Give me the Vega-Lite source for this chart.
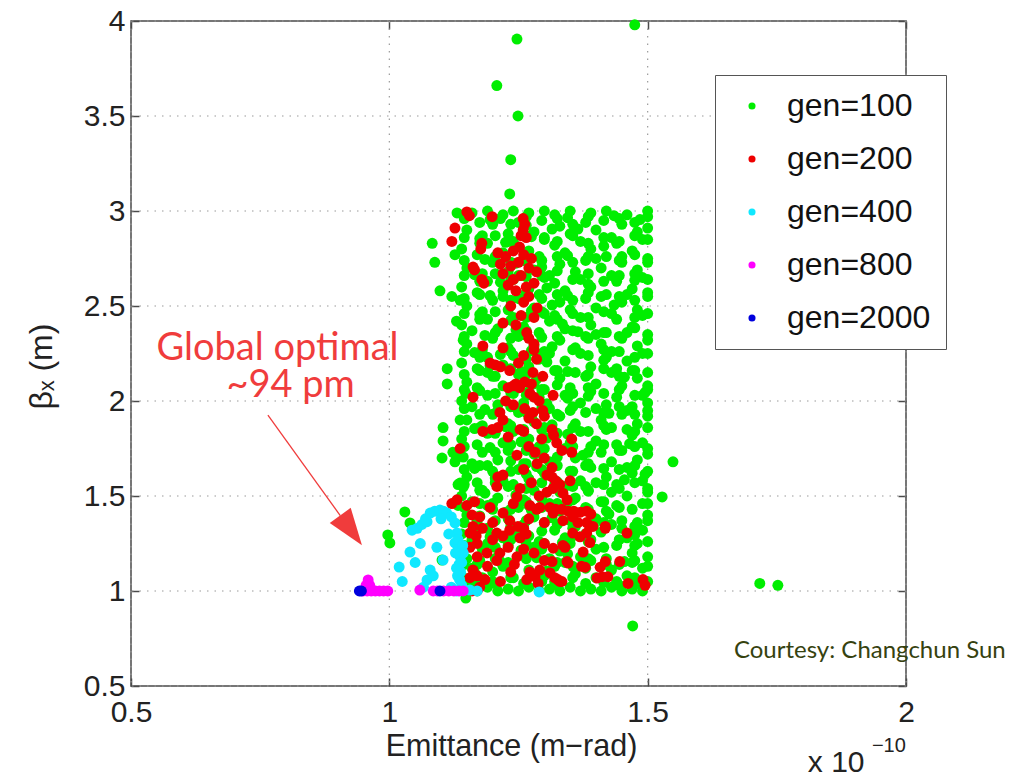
{
"$schema":"https://vega.github.io/schema/vega-lite/v6.json",
"width":775,"height":665,
"autosize":{"type":"none"},
"padding":{"left":131,"top":21,"right":108,"bottom":87},
"background":"white",
"config":{"view":{"stroke":"#4a4a4a","strokeWidth":1.5},"font":"Liberation Sans"},
"datasets":{
"gx":[{"v":0.5},{"v":1},{"v":1.5},{"v":2}],
"gy":[{"v":0.5},{"v":1},{"v":1.5},{"v":2},{"v":2.5},{"v":3},{"v":3.5},{"v":4}],
"pts":[
{"x":1.15,"y":1.01,"g":100},{"x":1.17,"y":1.0,"g":100},{"x":1.19,"y":1.02,"g":100},{"x":1.21,"y":1.0,"g":100},{"x":1.23,"y":1.01,"g":100},{"x":1.25,"y":1.0,"g":100},{"x":1.27,"y":1.02,"g":100},{"x":1.29,"y":1.0,"g":100},{"x":1.31,"y":1.01,"g":100},{"x":1.33,"y":1.0,"g":100},{"x":1.35,"y":1.02,"g":100},{"x":1.37,"y":1.0,"g":100},{"x":1.39,"y":1.01,"g":100},{"x":1.41,"y":1.0,"g":100},{"x":1.43,"y":1.02,"g":100},{"x":1.45,"y":1.0,"g":100},{"x":1.47,"y":1.01,"g":100},{"x":1.49,"y":1.0,"g":100},{"x":1.16,"y":1.04,"g":100},{"x":1.2,"y":1.05,"g":100},{"x":1.26,"y":1.04,"g":100},{"x":1.32,"y":1.05,"g":100},{"x":1.38,"y":1.04,"g":100},{"x":1.44,"y":1.05,"g":100},{"x":1.48,"y":1.04,"g":100},
{"x":1.14,"y":1.08,"g":100},{"x":1.16,"y":1.12,"g":100},{"x":1.18,"y":1.07,"g":100},{"x":1.2,"y":1.1,"g":100},{"x":1.22,"y":1.13,"g":100},{"x":1.24,"y":1.07,"g":100},{"x":1.27,"y":1.11,"g":100},{"x":1.3,"y":1.08,"g":100},{"x":1.32,"y":1.13,"g":100},{"x":1.36,"y":1.09,"g":100},{"x":1.38,"y":1.12,"g":100},{"x":1.4,"y":1.07,"g":100},{"x":1.43,"y":1.11,"g":100},{"x":1.46,"y":1.08,"g":100},{"x":1.49,"y":1.12,"g":100},{"x":1.17,"y":1.14,"g":100},{"x":1.23,"y":1.15,"g":100},{"x":1.29,"y":1.06,"g":100},{"x":1.34,"y":1.15,"g":100},{"x":1.42,"y":1.14,"g":100},{"x":1.47,"y":1.15,"g":100},
{"x":1.13,"y":1.2,"g":100},{"x":1.15,"y":1.17,"g":100},{"x":1.18,"y":1.22,"g":100},{"x":1.21,"y":1.18,"g":100},{"x":1.23,"y":1.24,"g":100},{"x":1.26,"y":1.19,"g":100},{"x":1.28,"y":1.23,"g":100},{"x":1.31,"y":1.17,"g":100},{"x":1.33,"y":1.21,"g":100},{"x":1.35,"y":1.25,"g":100},{"x":1.37,"y":1.18,"g":100},{"x":1.4,"y":1.22,"g":100},{"x":1.42,"y":1.17,"g":100},{"x":1.44,"y":1.24,"g":100},{"x":1.47,"y":1.2,"g":100},{"x":1.5,"y":1.18,"g":100},{"x":1.19,"y":1.25,"g":100},{"x":1.3,"y":1.25,"g":100},{"x":1.39,"y":1.16,"g":100},{"x":1.48,"y":1.25,"g":100},
{"x":1.14,"y":1.3,"g":100},{"x":1.16,"y":1.27,"g":100},{"x":1.19,"y":1.33,"g":100},{"x":1.22,"y":1.28,"g":100},{"x":1.24,"y":1.34,"g":100},{"x":1.27,"y":1.29,"g":100},{"x":1.29,"y":1.26,"g":100},{"x":1.32,"y":1.32,"g":100},{"x":1.34,"y":1.28,"g":100},{"x":1.36,"y":1.34,"g":100},{"x":1.39,"y":1.27,"g":100},{"x":1.41,"y":1.31,"g":100},{"x":1.43,"y":1.35,"g":100},{"x":1.46,"y":1.28,"g":100},{"x":1.49,"y":1.32,"g":100},{"x":1.17,"y":1.35,"g":100},{"x":1.26,"y":1.35,"g":100},{"x":1.38,"y":1.3,"g":100},{"x":1.45,"y":1.33,"g":100},
{"x":1.15,"y":1.4,"g":100},{"x":1.17,"y":1.37,"g":100},{"x":1.2,"y":1.43,"g":100},{"x":1.23,"y":1.38,"g":100},{"x":1.25,"y":1.44,"g":100},{"x":1.28,"y":1.39,"g":100},{"x":1.3,"y":1.36,"g":100},{"x":1.33,"y":1.42,"g":100},{"x":1.35,"y":1.37,"g":100},{"x":1.38,"y":1.44,"g":100},{"x":1.4,"y":1.38,"g":100},{"x":1.42,"y":1.42,"g":100},{"x":1.45,"y":1.37,"g":100},{"x":1.47,"y":1.43,"g":100},{"x":1.5,"y":1.4,"g":100},{"x":1.19,"y":1.45,"g":100},{"x":1.27,"y":1.45,"g":100},{"x":1.44,"y":1.45,"g":100},{"x":1.48,"y":1.36,"g":100},
{"x":1.14,"y":1.5,"g":100},{"x":1.16,"y":1.47,"g":100},{"x":1.18,"y":1.53,"g":100},{"x":1.21,"y":1.49,"g":100},{"x":1.23,"y":1.55,"g":100},{"x":1.26,"y":1.48,"g":100},{"x":1.28,"y":1.53,"g":100},{"x":1.31,"y":1.46,"g":100},{"x":1.33,"y":1.52,"g":100},{"x":1.36,"y":1.49,"g":100},{"x":1.38,"y":1.55,"g":100},{"x":1.41,"y":1.47,"g":100},{"x":1.43,"y":1.52,"g":100},{"x":1.46,"y":1.5,"g":100},{"x":1.49,"y":1.46,"g":100},{"x":1.5,"y":1.54,"g":100},{"x":1.2,"y":1.46,"g":100},{"x":1.34,"y":1.55,"g":100},
{"x":1.15,"y":1.6,"g":100},{"x":1.17,"y":1.57,"g":100},{"x":1.2,"y":1.63,"g":100},{"x":1.22,"y":1.58,"g":100},{"x":1.25,"y":1.64,"g":100},{"x":1.27,"y":1.59,"g":100},{"x":1.3,"y":1.62,"g":100},{"x":1.32,"y":1.56,"g":100},{"x":1.35,"y":1.63,"g":100},{"x":1.37,"y":1.58,"g":100},{"x":1.39,"y":1.65,"g":100},{"x":1.42,"y":1.6,"g":100},{"x":1.44,"y":1.56,"g":100},{"x":1.47,"y":1.62,"g":100},{"x":1.49,"y":1.58,"g":100},{"x":1.24,"y":1.56,"g":100},{"x":1.4,"y":1.57,"g":100},{"x":1.46,"y":1.65,"g":100},
{"x":1.13,"y":1.7,"g":100},{"x":1.16,"y":1.67,"g":100},{"x":1.18,"y":1.73,"g":100},{"x":1.21,"y":1.69,"g":100},{"x":1.23,"y":1.74,"g":100},{"x":1.26,"y":1.67,"g":100},{"x":1.28,"y":1.72,"g":100},{"x":1.31,"y":1.68,"g":100},{"x":1.34,"y":1.75,"g":100},{"x":1.36,"y":1.7,"g":100},{"x":1.38,"y":1.66,"g":100},{"x":1.41,"y":1.73,"g":100},{"x":1.43,"y":1.68,"g":100},{"x":1.45,"y":1.74,"g":100},{"x":1.48,"y":1.69,"g":100},{"x":1.5,"y":1.72,"g":100},{"x":1.19,"y":1.66,"g":100},{"x":1.3,"y":1.75,"g":100},
{"x":1.14,"y":1.8,"g":100},{"x":1.17,"y":1.77,"g":100},{"x":1.19,"y":1.83,"g":100},{"x":1.22,"y":1.78,"g":100},{"x":1.24,"y":1.84,"g":100},{"x":1.27,"y":1.8,"g":100},{"x":1.29,"y":1.76,"g":100},{"x":1.32,"y":1.82,"g":100},{"x":1.35,"y":1.78,"g":100},{"x":1.37,"y":1.84,"g":100},{"x":1.4,"y":1.79,"g":100},{"x":1.42,"y":1.85,"g":100},{"x":1.44,"y":1.77,"g":100},{"x":1.47,"y":1.82,"g":100},{"x":1.49,"y":1.78,"g":100},{"x":1.26,"y":1.85,"g":100},{"x":1.39,"y":1.76,"g":100},{"x":1.46,"y":1.85,"g":100},
{"x":1.15,"y":1.9,"g":100},{"x":1.18,"y":1.87,"g":100},{"x":1.2,"y":1.93,"g":100},{"x":1.23,"y":1.88,"g":100},{"x":1.25,"y":1.94,"g":100},{"x":1.28,"y":1.89,"g":100},{"x":1.3,"y":1.86,"g":100},{"x":1.33,"y":1.92,"g":100},{"x":1.36,"y":1.88,"g":100},{"x":1.38,"y":1.94,"g":100},{"x":1.41,"y":1.9,"g":100},{"x":1.43,"y":1.86,"g":100},{"x":1.45,"y":1.93,"g":100},{"x":1.48,"y":1.88,"g":100},{"x":1.5,"y":1.92,"g":100},{"x":1.21,"y":1.95,"g":100},{"x":1.35,"y":1.95,"g":100},{"x":1.46,"y":1.95,"g":100},
{"x":1.14,"y":2.0,"g":100},{"x":1.16,"y":1.97,"g":100},{"x":1.19,"y":2.03,"g":100},{"x":1.21,"y":1.98,"g":100},{"x":1.24,"y":2.04,"g":100},{"x":1.26,"y":1.99,"g":100},{"x":1.29,"y":2.02,"g":100},{"x":1.31,"y":1.96,"g":100},{"x":1.34,"y":2.03,"g":100},{"x":1.37,"y":1.99,"g":100},{"x":1.39,"y":2.05,"g":100},{"x":1.42,"y":1.98,"g":100},{"x":1.44,"y":2.02,"g":100},{"x":1.47,"y":1.97,"g":100},{"x":1.49,"y":2.03,"g":100},{"x":1.27,"y":2.05,"g":100},{"x":1.4,"y":1.96,"g":100},{"x":1.5,"y":1.99,"g":100},
{"x":1.15,"y":2.1,"g":100},{"x":1.17,"y":2.07,"g":100},{"x":1.2,"y":2.13,"g":100},{"x":1.22,"y":2.08,"g":100},{"x":1.25,"y":2.14,"g":100},{"x":1.28,"y":2.09,"g":100},{"x":1.3,"y":2.06,"g":100},{"x":1.33,"y":2.12,"g":100},{"x":1.35,"y":2.07,"g":100},{"x":1.38,"y":2.13,"g":100},{"x":1.4,"y":2.09,"g":100},{"x":1.43,"y":2.15,"g":100},{"x":1.45,"y":2.08,"g":100},{"x":1.48,"y":2.12,"g":100},{"x":1.5,"y":2.06,"g":100},{"x":1.19,"y":2.15,"g":100},{"x":1.36,"y":2.15,"g":100},
{"x":1.14,"y":2.2,"g":100},{"x":1.17,"y":2.17,"g":100},{"x":1.19,"y":2.23,"g":100},{"x":1.22,"y":2.19,"g":100},{"x":1.24,"y":2.24,"g":100},{"x":1.27,"y":2.18,"g":100},{"x":1.29,"y":2.22,"g":100},{"x":1.32,"y":2.16,"g":100},{"x":1.34,"y":2.21,"g":100},{"x":1.37,"y":2.25,"g":100},{"x":1.39,"y":2.18,"g":100},{"x":1.42,"y":2.23,"g":100},{"x":1.44,"y":2.17,"g":100},{"x":1.46,"y":2.21,"g":100},{"x":1.49,"y":2.25,"g":100},{"x":1.31,"y":2.25,"g":100},{"x":1.47,"y":2.16,"g":100},
{"x":1.15,"y":2.3,"g":100},{"x":1.18,"y":2.27,"g":100},{"x":1.2,"y":2.33,"g":100},{"x":1.23,"y":2.28,"g":100},{"x":1.25,"y":2.34,"g":100},{"x":1.28,"y":2.29,"g":100},{"x":1.3,"y":2.26,"g":100},{"x":1.33,"y":2.32,"g":100},{"x":1.36,"y":2.28,"g":100},{"x":1.38,"y":2.34,"g":100},{"x":1.41,"y":2.3,"g":100},{"x":1.43,"y":2.26,"g":100},{"x":1.45,"y":2.33,"g":100},{"x":1.48,"y":2.29,"g":100},{"x":1.5,"y":2.35,"g":100},{"x":1.26,"y":2.35,"g":100},{"x":1.4,"y":2.35,"g":100},
{"x":1.14,"y":2.4,"g":100},{"x":1.16,"y":2.37,"g":100},{"x":1.19,"y":2.43,"g":100},{"x":1.21,"y":2.38,"g":100},{"x":1.24,"y":2.44,"g":100},{"x":1.26,"y":2.39,"g":100},{"x":1.29,"y":2.36,"g":100},{"x":1.31,"y":2.42,"g":100},{"x":1.34,"y":2.38,"g":100},{"x":1.37,"y":2.44,"g":100},{"x":1.39,"y":2.4,"g":100},{"x":1.42,"y":2.36,"g":100},{"x":1.44,"y":2.43,"g":100},{"x":1.47,"y":2.39,"g":100},{"x":1.49,"y":2.45,"g":100},{"x":1.32,"y":2.45,"g":100},{"x":1.46,"y":2.36,"g":100},
{"x":1.15,"y":2.5,"g":100},{"x":1.18,"y":2.47,"g":100},{"x":1.2,"y":2.53,"g":100},{"x":1.23,"y":2.48,"g":100},{"x":1.25,"y":2.54,"g":100},{"x":1.28,"y":2.49,"g":100},{"x":1.3,"y":2.46,"g":100},{"x":1.33,"y":2.52,"g":100},{"x":1.35,"y":2.48,"g":100},{"x":1.38,"y":2.54,"g":100},{"x":1.4,"y":2.49,"g":100},{"x":1.43,"y":2.46,"g":100},{"x":1.45,"y":2.52,"g":100},{"x":1.48,"y":2.48,"g":100},{"x":1.5,"y":2.55,"g":100},{"x":1.22,"y":2.55,"g":100},{"x":1.41,"y":2.55,"g":100},
{"x":1.14,"y":2.6,"g":100},{"x":1.17,"y":2.57,"g":100},{"x":1.19,"y":2.63,"g":100},{"x":1.22,"y":2.58,"g":100},{"x":1.24,"y":2.64,"g":100},{"x":1.27,"y":2.59,"g":100},{"x":1.29,"y":2.56,"g":100},{"x":1.32,"y":2.62,"g":100},{"x":1.34,"y":2.58,"g":100},{"x":1.37,"y":2.64,"g":100},{"x":1.39,"y":2.6,"g":100},{"x":1.42,"y":2.56,"g":100},{"x":1.44,"y":2.63,"g":100},{"x":1.47,"y":2.59,"g":100},{"x":1.49,"y":2.65,"g":100},{"x":1.3,"y":2.65,"g":100},{"x":1.46,"y":2.56,"g":100},
{"x":1.15,"y":2.7,"g":100},{"x":1.18,"y":2.67,"g":100},{"x":1.2,"y":2.73,"g":100},{"x":1.23,"y":2.68,"g":100},{"x":1.26,"y":2.74,"g":100},{"x":1.28,"y":2.69,"g":100},{"x":1.31,"y":2.66,"g":100},{"x":1.33,"y":2.72,"g":100},{"x":1.36,"y":2.68,"g":100},{"x":1.38,"y":2.74,"g":100},{"x":1.41,"y":2.7,"g":100},{"x":1.43,"y":2.66,"g":100},{"x":1.45,"y":2.73,"g":100},{"x":1.48,"y":2.69,"g":100},{"x":1.5,"y":2.75,"g":100},{"x":1.25,"y":2.66,"g":100},{"x":1.4,"y":2.75,"g":100},
{"x":1.14,"y":2.8,"g":100},{"x":1.17,"y":2.77,"g":100},{"x":1.19,"y":2.83,"g":100},{"x":1.22,"y":2.78,"g":100},{"x":1.24,"y":2.84,"g":100},{"x":1.27,"y":2.79,"g":100},{"x":1.29,"y":2.76,"g":100},{"x":1.32,"y":2.82,"g":100},{"x":1.34,"y":2.78,"g":100},{"x":1.37,"y":2.84,"g":100},{"x":1.39,"y":2.8,"g":100},{"x":1.42,"y":2.76,"g":100},{"x":1.44,"y":2.83,"g":100},{"x":1.47,"y":2.79,"g":100},{"x":1.49,"y":2.85,"g":100},{"x":1.3,"y":2.85,"g":100},{"x":1.45,"y":2.76,"g":100},
{"x":1.15,"y":2.9,"g":100},{"x":1.18,"y":2.87,"g":100},{"x":1.2,"y":2.93,"g":100},{"x":1.23,"y":2.88,"g":100},{"x":1.25,"y":2.94,"g":100},{"x":1.28,"y":2.89,"g":100},{"x":1.3,"y":2.86,"g":100},{"x":1.33,"y":2.92,"g":100},{"x":1.35,"y":2.88,"g":100},{"x":1.38,"y":2.94,"g":100},{"x":1.4,"y":2.9,"g":100},{"x":1.43,"y":2.86,"g":100},{"x":1.45,"y":2.93,"g":100},{"x":1.48,"y":2.89,"g":100},{"x":1.5,"y":2.91,"g":100},
{"x":1.16,"y":2.99,"g":100},{"x":1.19,"y":3.0,"g":100},{"x":1.22,"y":2.98,"g":100},{"x":1.24,"y":3.0,"g":100},{"x":1.27,"y":2.99,"g":100},{"x":1.3,"y":3.0,"g":100},{"x":1.32,"y":2.98,"g":100},{"x":1.35,"y":3.0,"g":100},{"x":1.39,"y":2.99,"g":100},{"x":1.42,"y":3.0,"g":100},{"x":1.46,"y":2.98,"g":100},{"x":1.5,"y":3.0,"g":100},
{"x":1.145,"y":1.06,"g":100},{"x":1.205,"y":1.04,"g":100},{"x":1.235,"y":1.07,"g":100},{"x":1.295,"y":1.05,"g":100},{"x":1.325,"y":1.03,"g":100},{"x":1.355,"y":1.07,"g":100},{"x":1.415,"y":1.06,"g":100},{"x":1.445,"y":1.03,"g":100},{"x":1.475,"y":1.07,"g":100},{"x":1.5,"y":1.05,"g":100},{"x":1.175,"y":1.065,"g":100},
{"x":1.145,"y":1.14,"g":100},{"x":1.175,"y":1.16,"g":100},{"x":1.235,"y":1.13,"g":100},{"x":1.265,"y":1.17,"g":100},{"x":1.325,"y":1.15,"g":100},{"x":1.355,"y":1.13,"g":100},{"x":1.385,"y":1.17,"g":100},{"x":1.445,"y":1.14,"g":100},{"x":1.475,"y":1.16,"g":100},{"x":1.5,"y":1.13,"g":100},{"x":1.205,"y":1.17,"g":100},
{"x":1.145,"y":1.24,"g":100},{"x":1.205,"y":1.23,"g":100},{"x":1.235,"y":1.27,"g":100},{"x":1.265,"y":1.25,"g":100},{"x":1.295,"y":1.22,"g":100},{"x":1.385,"y":1.26,"g":100},{"x":1.415,"y":1.23,"g":100},{"x":1.445,"y":1.27,"g":100},{"x":1.475,"y":1.24,"g":100},{"x":1.5,"y":1.26,"g":100},{"x":1.355,"y":1.29,"g":100},
{"x":1.145,"y":1.36,"g":100},{"x":1.175,"y":1.33,"g":100},{"x":1.205,"y":1.37,"g":100},{"x":1.235,"y":1.34,"g":100},{"x":1.265,"y":1.37,"g":100},{"x":1.325,"y":1.35,"g":100},{"x":1.355,"y":1.33,"g":100},{"x":1.415,"y":1.36,"g":100},{"x":1.475,"y":1.34,"g":100},{"x":1.5,"y":1.37,"g":100},
{"x":1.145,"y":1.44,"g":100},{"x":1.175,"y":1.46,"g":100},{"x":1.235,"y":1.43,"g":100},{"x":1.265,"y":1.47,"g":100},{"x":1.295,"y":1.44,"g":100},{"x":1.325,"y":1.46,"g":100},{"x":1.385,"y":1.43,"g":100},{"x":1.415,"y":1.47,"g":100},{"x":1.445,"y":1.44,"g":100},{"x":1.5,"y":1.46,"g":100},{"x":1.355,"y":1.48,"g":100},
{"x":1.145,"y":1.56,"g":100},{"x":1.175,"y":1.53,"g":100},{"x":1.205,"y":1.57,"g":100},{"x":1.265,"y":1.54,"g":100},{"x":1.295,"y":1.57,"g":100},{"x":1.355,"y":1.55,"g":100},{"x":1.385,"y":1.53,"g":100},{"x":1.415,"y":1.56,"g":100},{"x":1.445,"y":1.54,"g":100},{"x":1.475,"y":1.57,"g":100},{"x":1.5,"y":1.52,"g":100},
{"x":1.145,"y":1.64,"g":100},{"x":1.175,"y":1.66,"g":100},{"x":1.235,"y":1.63,"g":100},{"x":1.265,"y":1.67,"g":100},{"x":1.295,"y":1.64,"g":100},{"x":1.325,"y":1.66,"g":100},{"x":1.355,"y":1.63,"g":100},{"x":1.385,"y":1.67,"g":100},{"x":1.445,"y":1.64,"g":100},{"x":1.475,"y":1.66,"g":100},{"x":1.5,"y":1.63,"g":100},
{"x":1.145,"y":1.76,"g":100},{"x":1.205,"y":1.73,"g":100},{"x":1.235,"y":1.77,"g":100},{"x":1.265,"y":1.74,"g":100},{"x":1.295,"y":1.72,"g":100},{"x":1.355,"y":1.76,"g":100},{"x":1.385,"y":1.73,"g":100},{"x":1.415,"y":1.77,"g":100},{"x":1.445,"y":1.74,"g":100},{"x":1.475,"y":1.76,"g":100},{"x":1.5,"y":1.75,"g":100},
{"x":1.145,"y":1.84,"g":100},{"x":1.175,"y":1.86,"g":100},{"x":1.205,"y":1.83,"g":100},{"x":1.235,"y":1.87,"g":100},{"x":1.295,"y":1.85,"g":100},{"x":1.325,"y":1.83,"g":100},{"x":1.355,"y":1.86,"g":100},{"x":1.385,"y":1.84,"g":100},{"x":1.415,"y":1.87,"g":100},{"x":1.475,"y":1.84,"g":100},{"x":1.5,"y":1.86,"g":100},
{"x":1.145,"y":1.96,"g":100},{"x":1.175,"y":1.93,"g":100},{"x":1.235,"y":1.97,"g":100},{"x":1.265,"y":1.94,"g":100},{"x":1.295,"y":1.96,"g":100},{"x":1.325,"y":1.93,"g":100},{"x":1.355,"y":1.97,"g":100},{"x":1.415,"y":1.94,"g":100},{"x":1.445,"y":1.97,"g":100},{"x":1.475,"y":1.93,"g":100},{"x":1.5,"y":1.95,"g":100},
{"x":1.145,"y":2.06,"g":100},{"x":1.205,"y":2.04,"g":100},{"x":1.235,"y":2.07,"g":100},{"x":1.265,"y":2.03,"g":100},{"x":1.295,"y":2.06,"g":100},{"x":1.355,"y":2.04,"g":100},{"x":1.385,"y":2.07,"g":100},{"x":1.415,"y":2.04,"g":100},{"x":1.445,"y":2.06,"g":100},{"x":1.475,"y":2.03,"g":100},{"x":1.5,"y":2.08,"g":100},
{"x":1.145,"y":2.14,"g":100},{"x":1.175,"y":2.16,"g":100},{"x":1.205,"y":2.13,"g":100},{"x":1.235,"y":2.17,"g":100},{"x":1.265,"y":2.14,"g":100},{"x":1.325,"y":2.16,"g":100},{"x":1.385,"y":2.14,"g":100},{"x":1.415,"y":2.17,"g":100},{"x":1.445,"y":2.13,"g":100},{"x":1.475,"y":2.16,"g":100},{"x":1.5,"y":2.15,"g":100},
{"x":1.145,"y":2.26,"g":100},{"x":1.175,"y":2.23,"g":100},{"x":1.235,"y":2.26,"g":100},{"x":1.265,"y":2.22,"g":100},{"x":1.295,"y":2.25,"g":100},{"x":1.355,"y":2.27,"g":100},{"x":1.385,"y":2.24,"g":100},{"x":1.445,"y":2.26,"g":100},{"x":1.475,"y":2.23,"g":100},{"x":1.5,"y":2.25,"g":100},{"x":1.415,"y":2.27,"g":100},
{"x":1.145,"y":2.34,"g":100},{"x":1.205,"y":2.36,"g":100},{"x":1.235,"y":2.33,"g":100},{"x":1.265,"y":2.37,"g":100},{"x":1.325,"y":2.34,"g":100},{"x":1.355,"y":2.37,"g":100},{"x":1.385,"y":2.33,"g":100},{"x":1.415,"y":2.36,"g":100},{"x":1.445,"y":2.34,"g":100},{"x":1.5,"y":2.32,"g":100},
{"x":1.145,"y":2.46,"g":100},{"x":1.175,"y":2.43,"g":100},{"x":1.205,"y":2.47,"g":100},{"x":1.265,"y":2.44,"g":100},{"x":1.295,"y":2.47,"g":100},{"x":1.325,"y":2.43,"g":100},{"x":1.355,"y":2.46,"g":100},{"x":1.385,"y":2.44,"g":100},{"x":1.415,"y":2.47,"g":100},{"x":1.475,"y":2.44,"g":100},{"x":1.5,"y":2.46,"g":100},
{"x":1.145,"y":2.54,"g":100},{"x":1.175,"y":2.56,"g":100},{"x":1.235,"y":2.53,"g":100},{"x":1.265,"y":2.57,"g":100},{"x":1.295,"y":2.54,"g":100},{"x":1.325,"y":2.56,"g":100},{"x":1.355,"y":2.53,"g":100},{"x":1.385,"y":2.57,"g":100},{"x":1.445,"y":2.55,"g":100},{"x":1.475,"y":2.53,"g":100},{"x":1.5,"y":2.57,"g":100},
{"x":1.145,"y":2.66,"g":100},{"x":1.175,"y":2.63,"g":100},{"x":1.205,"y":2.67,"g":100},{"x":1.235,"y":2.64,"g":100},{"x":1.295,"y":2.66,"g":100},{"x":1.355,"y":2.64,"g":100},{"x":1.385,"y":2.67,"g":100},{"x":1.415,"y":2.63,"g":100},{"x":1.445,"y":2.66,"g":100},{"x":1.5,"y":2.64,"g":100},{"x":1.475,"y":2.67,"g":100},
{"x":1.145,"y":2.74,"g":100},{"x":1.205,"y":2.76,"g":100},{"x":1.235,"y":2.73,"g":100},{"x":1.265,"y":2.77,"g":100},{"x":1.295,"y":2.74,"g":100},{"x":1.325,"y":2.76,"g":100},{"x":1.355,"y":2.73,"g":100},{"x":1.385,"y":2.76,"g":100},{"x":1.445,"y":2.74,"g":100},{"x":1.475,"y":2.77,"g":100},{"x":1.5,"y":2.73,"g":100},
{"x":1.145,"y":2.86,"g":100},{"x":1.175,"y":2.83,"g":100},{"x":1.205,"y":2.87,"g":100},{"x":1.235,"y":2.84,"g":100},{"x":1.265,"y":2.87,"g":100},{"x":1.325,"y":2.84,"g":100},{"x":1.355,"y":2.87,"g":100},{"x":1.385,"y":2.83,"g":100},{"x":1.415,"y":2.86,"g":100},{"x":1.445,"y":2.84,"g":100},{"x":1.475,"y":2.87,"g":100},{"x":1.5,"y":2.85,"g":100},
{"x":1.145,"y":2.96,"g":100},{"x":1.175,"y":2.94,"g":100},{"x":1.215,"y":2.96,"g":100},{"x":1.235,"y":2.93,"g":100},{"x":1.265,"y":2.97,"g":100},{"x":1.295,"y":2.95,"g":100},{"x":1.325,"y":2.96,"g":100},{"x":1.355,"y":2.93,"g":100},{"x":1.385,"y":2.97,"g":100},{"x":1.415,"y":2.95,"g":100},{"x":1.445,"y":2.96,"g":100},{"x":1.475,"y":2.94,"g":100},{"x":1.5,"y":2.97,"g":100},
{"x":1.165,"y":1.095,"g":100},{"x":1.215,"y":1.155,"g":100},{"x":1.255,"y":1.215,"g":100},{"x":1.305,"y":1.105,"g":100},{"x":1.285,"y":1.175,"g":100},{"x":1.345,"y":1.195,"g":100},{"x":1.195,"y":1.285,"g":100},{"x":1.245,"y":1.305,"g":100},{"x":1.295,"y":1.315,"g":100},{"x":1.335,"y":1.255,"g":100},{"x":1.175,"y":1.395,"g":100},{"x":1.225,"y":1.415,"g":100},{"x":1.275,"y":1.425,"g":100},{"x":1.315,"y":1.385,"g":100},{"x":1.345,"y":1.465,"g":100},{"x":1.185,"y":1.515,"g":100},{"x":1.245,"y":1.505,"g":100},{"x":1.295,"y":1.485,"g":100},{"x":1.325,"y":1.575,"g":100},{"x":1.265,"y":1.615,"g":100},{"x":1.205,"y":1.595,"g":100},{"x":1.165,"y":1.645,"g":100},{"x":1.235,"y":1.685,"g":100},{"x":1.285,"y":1.655,"g":100},{"x":1.325,"y":1.705,"g":100},{"x":1.195,"y":1.755,"g":100},{"x":1.255,"y":1.785,"g":100},{"x":1.305,"y":1.805,"g":100},{"x":1.345,"y":1.825,"g":100},{"x":1.165,"y":1.855,"g":100},{"x":1.225,"y":1.865,"g":100},{"x":1.275,"y":1.915,"g":100},{"x":1.315,"y":1.875,"g":100},{"x":1.185,"y":1.955,"g":100},{"x":1.245,"y":1.965,"g":100},{"x":1.305,"y":1.985,"g":100},{"x":1.345,"y":2.015,"g":100},{"x":1.175,"y":2.055,"g":100},{"x":1.235,"y":2.045,"g":100},{"x":1.285,"y":2.115,"g":100},{"x":1.325,"y":2.085,"g":100},{"x":1.195,"y":2.185,"g":100},{"x":1.255,"y":2.155,"g":100},{"x":1.305,"y":2.205,"g":100},{"x":1.345,"y":2.155,"g":100},{"x":1.165,"y":2.255,"g":100},{"x":1.215,"y":2.245,"g":100},{"x":1.275,"y":2.265,"g":100},{"x":1.315,"y":2.285,"g":100},{"x":1.185,"y":2.345,"g":100},{"x":1.245,"y":2.375,"g":100},{"x":1.295,"y":2.335,"g":100},{"x":1.335,"y":2.405,"g":100},{"x":1.175,"y":2.455,"g":100},{"x":1.235,"y":2.425,"g":100},{"x":1.275,"y":2.475,"g":100},{"x":1.315,"y":2.505,"g":100},{"x":1.195,"y":2.555,"g":100},{"x":1.255,"y":2.535,"g":100},{"x":1.305,"y":2.595,"g":100},{"x":1.345,"y":2.555,"g":100},{"x":1.165,"y":2.665,"g":100},{"x":1.215,"y":2.625,"g":100},{"x":1.265,"y":2.655,"g":100},{"x":1.325,"y":2.685,"g":100},{"x":1.185,"y":2.745,"g":100},{"x":1.245,"y":2.725,"g":100},{"x":1.295,"y":2.705,"g":100},{"x":1.345,"y":2.765,"g":100},{"x":1.175,"y":2.855,"g":100},{"x":1.225,"y":2.835,"g":100},{"x":1.275,"y":2.865,"g":100},{"x":1.315,"y":2.905,"g":100},{"x":1.195,"y":2.955,"g":100},{"x":1.265,"y":2.925,"g":100},{"x":1.345,"y":2.965,"g":100},
{"x":1.375,"y":1.135,"g":100},{"x":1.415,"y":1.045,"g":100},{"x":1.455,"y":1.155,"g":100},{"x":1.395,"y":1.345,"g":100},{"x":1.475,"y":1.295,"g":100},{"x":1.425,"y":1.405,"g":100},{"x":1.385,"y":1.525,"g":100},{"x":1.455,"y":1.585,"g":100},{"x":1.415,"y":1.645,"g":100},{"x":1.495,"y":1.615,"g":100},{"x":1.375,"y":1.715,"g":100},{"x":1.465,"y":1.775,"g":100},{"x":1.425,"y":1.935,"g":100},{"x":1.385,"y":2.025,"g":100},{"x":1.495,"y":2.045,"g":100},{"x":1.455,"y":2.125,"g":100},{"x":1.415,"y":2.215,"g":100},{"x":1.365,"y":2.365,"g":100},{"x":1.475,"y":2.385,"g":100},{"x":1.435,"y":2.505,"g":100},{"x":1.385,"y":2.615,"g":100},{"x":1.475,"y":2.635,"g":100},{"x":1.415,"y":2.815,"g":100},{"x":1.365,"y":2.905,"g":100},{"x":1.485,"y":2.955,"g":100},{"x":1.435,"y":2.975,"g":100},
{"x":1.083,"y":2.83,"g":100},{"x":1.088,"y":2.73,"g":100},{"x":1.121,"y":2.55,"g":100},{"x":1.137,"y":2.53,"g":100},{"x":1.127,"y":2.77,"g":100},{"x":1.131,"y":2.99,"g":100},{"x":1.143,"y":2.98,"g":100},{"x":1.143,"y":2.32,"g":100},{"x":1.13,"y":2.42,"g":100},{"x":1.112,"y":2.09,"g":100},{"x":1.112,"y":2.17,"g":100},{"x":1.104,"y":1.86,"g":100},{"x":1.104,"y":1.79,"g":100},{"x":1.127,"y":1.68,"g":100},{"x":1.102,"y":1.7,"g":100},{"x":1.143,"y":1.705,"g":100},{"x":1.137,"y":1.568,"g":100},{"x":1.133,"y":1.45,"g":100},{"x":1.123,"y":1.73,"g":100},{"x":1.133,"y":1.56,"g":100},{"x":1.143,"y":1.547,"g":100},{"x":1.098,"y":2.58,"g":100},{"x":1.148,"y":2.04,"g":100},{"x":1.137,"y":1.9,"g":100},
{"x":0.997,"y":1.295,"g":100},{"x":1.001,"y":1.253,"g":100},{"x":1.03,"y":1.416,"g":100},{"x":1.04,"y":1.358,"g":100},{"x":1.102,"y":1.163,"g":100},{"x":1.148,"y":0.963,"g":100},
{"x":1.475,"y":3.98,"g":100},{"x":1.247,"y":3.905,"g":100},{"x":1.208,"y":3.66,"g":100},{"x":1.249,"y":3.5,"g":100},{"x":1.235,"y":3.27,"g":100},{"x":1.233,"y":3.09,"g":100},{"x":1.549,"y":1.68,"g":100},{"x":1.528,"y":1.495,"g":100},{"x":1.717,"y":1.04,"g":100},{"x":1.752,"y":1.03,"g":100},{"x":1.471,"y":0.816,"g":100},
{"x":1.15,"y":2.995,"g":200},{"x":1.155,"y":2.975,"g":200},{"x":1.127,"y":2.91,"g":200},{"x":1.121,"y":2.84,"g":200},{"x":1.179,"y":2.83,"g":200},{"x":1.177,"y":2.8,"g":200},{"x":1.199,"y":2.97,"g":200},{"x":1.259,"y":2.96,"g":200},{"x":1.262,"y":2.93,"g":200},{"x":1.259,"y":2.9,"g":200},{"x":1.255,"y":2.87,"g":200},{"x":1.265,"y":2.86,"g":200},{"x":1.252,"y":2.81,"g":200},{"x":1.21,"y":2.78,"g":200},{"x":1.225,"y":2.76,"g":200},{"x":1.24,"y":2.79,"g":200},{"x":1.26,"y":2.77,"g":200},{"x":1.275,"y":2.75,"g":200},{"x":1.215,"y":2.72,"g":200},{"x":1.235,"y":2.71,"g":200},{"x":1.25,"y":2.73,"g":200},{"x":1.27,"y":2.7,"g":200},{"x":1.285,"y":2.68,"g":200},{"x":1.162,"y":2.705,"g":200},{"x":1.165,"y":2.69,"g":200},{"x":1.179,"y":2.64,"g":200},{"x":1.183,"y":2.62,"g":200},{"x":1.22,"y":2.67,"g":200},{"x":1.24,"y":2.64,"g":200},{"x":1.255,"y":2.66,"g":200},{"x":1.23,"y":2.61,"g":200},{"x":1.265,"y":2.6,"g":200},{"x":1.28,"y":2.62,"g":200},{"x":1.245,"y":2.58,"g":200},{"x":1.27,"y":2.55,"g":200},{"x":1.286,"y":2.49,"g":200},{"x":1.28,"y":2.44,"g":200},{"x":1.26,"y":2.52,"g":200},{"x":1.235,"y":2.5,"g":200},{"x":1.22,"y":2.41,"g":200},{"x":1.245,"y":2.4,"g":200},{"x":1.266,"y":2.36,"g":200},{"x":1.28,"y":2.3,"g":200},{"x":1.28,"y":2.27,"g":200},{"x":1.181,"y":2.29,"g":200},{"x":1.22,"y":2.28,"g":200},{"x":1.195,"y":2.2,"g":200},{"x":1.205,"y":2.19,"g":200},{"x":1.215,"y":2.18,"g":200},{"x":1.233,"y":2.16,"g":200},{"x":1.25,"y":2.2,"g":200},{"x":1.278,"y":2.15,"g":200},{"x":1.297,"y":2.13,"g":200},{"x":1.245,"y":2.09,"g":200},{"x":1.252,"y":2.07,"g":200},{"x":1.24,"y":2.08,"g":200},{"x":1.262,"y":2.1,"g":200},{"x":1.275,"y":2.09,"g":200},
{"x":1.162,"y":2.02,"g":200},{"x":1.23,"y":2.07,"g":200},{"x":1.272,"y":2.04,"g":200},{"x":1.28,"y":2.02,"g":200},{"x":1.29,"y":2.0,"g":200},{"x":1.262,"y":1.96,"g":200},{"x":1.278,"y":1.94,"g":200},{"x":1.297,"y":1.95,"g":200},{"x":1.317,"y":2.03,"g":200},{"x":1.214,"y":1.94,"g":200},{"x":1.22,"y":1.9,"g":200},{"x":1.181,"y":1.84,"g":200},{"x":1.199,"y":1.85,"g":200},{"x":1.21,"y":1.86,"g":200},{"x":1.23,"y":1.81,"g":200},{"x":1.253,"y":1.85,"g":200},{"x":1.26,"y":1.84,"g":200},{"x":1.315,"y":1.85,"g":200},{"x":1.318,"y":1.82,"g":200},{"x":1.324,"y":1.78,"g":200},{"x":1.353,"y":1.8,"g":200},{"x":1.334,"y":1.74,"g":200},{"x":1.353,"y":1.73,"g":200},{"x":1.282,"y":1.73,"g":200},{"x":1.247,"y":1.715,"g":200},{"x":1.286,"y":1.67,"g":200},{"x":1.315,"y":1.65,"g":200},{"x":1.305,"y":1.61,"g":200},{"x":1.315,"y":1.6,"g":200},{"x":1.322,"y":1.58,"g":200},{"x":1.35,"y":1.58,"g":200},{"x":1.21,"y":1.6,"g":200},{"x":1.22,"y":1.61,"g":200},{"x":1.208,"y":1.55,"g":200},{"x":1.253,"y":1.54,"g":200},{"x":1.247,"y":1.495,"g":200},{"x":1.305,"y":1.52,"g":200},{"x":1.336,"y":1.515,"g":200},{"x":1.344,"y":1.48,"g":200},{"x":1.137,"y":1.75,"g":200},{"x":1.121,"y":1.46,"g":200},{"x":1.131,"y":1.48,"g":200},{"x":1.33,"y":1.56,"g":200},{"x":1.317,"y":1.54,"g":200},
{"x":1.272,"y":1.45,"g":200},{"x":1.285,"y":1.43,"g":200},{"x":1.291,"y":1.44,"g":200},{"x":1.311,"y":1.44,"g":200},{"x":1.322,"y":1.43,"g":200},{"x":1.334,"y":1.43,"g":200},{"x":1.346,"y":1.42,"g":200},{"x":1.357,"y":1.42,"g":200},{"x":1.37,"y":1.415,"g":200},{"x":1.382,"y":1.42,"g":200},{"x":1.39,"y":1.405,"g":200},{"x":1.317,"y":1.41,"g":200},{"x":1.336,"y":1.37,"g":200},{"x":1.355,"y":1.39,"g":200},{"x":1.365,"y":1.36,"g":200},{"x":1.382,"y":1.36,"g":200},{"x":1.394,"y":1.34,"g":200},{"x":1.418,"y":1.34,"g":200},{"x":1.22,"y":1.41,"g":200},{"x":1.233,"y":1.37,"g":200},{"x":1.249,"y":1.34,"g":200},{"x":1.26,"y":1.33,"g":200},{"x":1.175,"y":1.39,"g":200},{"x":1.162,"y":1.34,"g":200},{"x":1.156,"y":1.305,"g":200},{"x":1.168,"y":1.29,"g":200},{"x":1.18,"y":1.33,"g":200},{"x":1.2,"y":1.36,"g":200},{"x":1.208,"y":1.305,"g":200},{"x":1.22,"y":1.29,"g":200},{"x":1.233,"y":1.32,"g":200},{"x":1.253,"y":1.28,"g":200},{"x":1.265,"y":1.3,"g":200},{"x":1.156,"y":1.23,"g":200},{"x":1.17,"y":1.25,"g":200},{"x":1.189,"y":1.2,"g":200},{"x":1.214,"y":1.2,"g":200},{"x":1.208,"y":1.16,"g":200},{"x":1.247,"y":1.18,"g":200},{"x":1.242,"y":1.14,"g":200},{"x":1.162,"y":1.11,"g":200},{"x":1.156,"y":1.07,"g":200},{"x":1.17,"y":1.08,"g":200},{"x":1.185,"y":1.06,"g":200},{"x":1.272,"y":1.1,"g":200},{"x":1.282,"y":1.075,"g":200},{"x":1.291,"y":1.11,"g":200},{"x":1.266,"y":1.06,"g":200},{"x":1.288,"y":1.04,"g":200},{"x":1.311,"y":1.095,"g":200},{"x":1.317,"y":1.225,"g":200},{"x":1.336,"y":1.24,"g":200},{"x":1.315,"y":1.155,"g":200},{"x":1.344,"y":1.155,"g":200},{"x":1.326,"y":1.06,"g":200},{"x":1.334,"y":1.05,"g":200},{"x":1.355,"y":1.305,"g":200},{"x":1.369,"y":1.285,"g":200},{"x":1.382,"y":1.305,"g":200},{"x":1.388,"y":1.255,"g":200},{"x":1.375,"y":1.205,"g":200},{"x":1.379,"y":1.125,"g":200},{"x":1.372,"y":1.13,"g":200},{"x":1.408,"y":1.125,"g":200},{"x":1.418,"y":1.155,"g":200},{"x":1.412,"y":1.075,"g":200},{"x":1.423,"y":1.075,"g":200},{"x":1.446,"y":1.155,"g":200},{"x":1.46,"y":1.305,"g":200},{"x":1.462,"y":1.04,"g":200},{"x":1.491,"y":1.06,"g":200},{"x":1.495,"y":1.03,"g":200},{"x":1.388,"y":1.34,"g":200},{"x":1.418,"y":1.33,"g":200},{"x":1.34,"y":1.23,"g":200},{"x":1.346,"y":1.147,"g":200},{"x":1.402,"y":1.068,"g":200},{"x":1.32,"y":1.07,"g":200},{"x":1.33,"y":1.05,"g":200},{"x":1.15,"y":1.45,"g":200},{"x":1.165,"y":1.47,"g":200},{"x":1.17,"y":1.18,"g":200},{"x":1.19,"y":1.13,"g":200},{"x":1.2,"y":1.27,"g":200},{"x":1.23,"y":1.23,"g":200},{"x":1.26,"y":1.22,"g":200},{"x":1.28,"y":1.2,"g":200},{"x":1.3,"y":1.25,"g":200},{"x":1.235,"y":1.1,"g":200},{"x":1.215,"y":1.05,"g":200},{"x":1.3,"y":1.16,"g":200},{"x":1.16,"y":1.4,"g":200},{"x":1.195,"y":1.44,"g":200},{"x":1.24,"y":1.46,"g":200},{"x":1.27,"y":1.38,"g":200},{"x":1.3,"y":1.36,"g":200},{"x":1.29,"y":1.5,"g":200},{"x":1.275,"y":1.57,"g":200},{"x":1.26,"y":1.64,"g":200},{"x":1.3,"y":1.7,"g":200},{"x":1.27,"y":1.76,"g":200},{"x":1.295,"y":1.8,"g":200},{"x":1.285,"y":1.88,"g":200},{"x":1.3,"y":1.92,"g":200},{"x":1.24,"y":1.98,"g":200},{"x":1.27,"y":1.91,"g":200},{"x":1.225,"y":2.0,"g":200},{"x":1.285,"y":2.22,"g":200},{"x":1.26,"y":2.24,"g":200},{"x":1.27,"y":2.33,"g":200},{"x":1.255,"y":2.45,"g":200},{"x":1.16,"y":1.0,"g":200},{"x":1.175,"y":1.02,"g":200},
{"x":1.019,"y":1.126,"g":400},{"x":1.04,"y":1.205,"g":400},{"x":1.044,"y":1.32,"g":400},{"x":1.054,"y":1.33,"g":400},{"x":1.063,"y":1.35,"g":400},{"x":1.073,"y":1.365,"g":400},{"x":1.079,"y":1.41,"g":400},{"x":1.088,"y":1.42,"g":400},{"x":1.098,"y":1.426,"g":400},{"x":1.105,"y":1.42,"g":400},{"x":1.111,"y":1.41,"g":400},{"x":1.12,"y":1.39,"g":400},{"x":1.127,"y":1.358,"g":400},{"x":1.131,"y":1.305,"g":400},{"x":1.127,"y":1.253,"g":400},{"x":1.133,"y":1.27,"g":400},{"x":1.135,"y":1.22,"g":400},{"x":1.137,"y":1.18,"g":400},{"x":1.135,"y":1.14,"g":400},{"x":1.138,"y":1.1,"g":400},{"x":1.136,"y":1.06,"g":400},{"x":1.14,"y":1.03,"g":400},{"x":1.143,"y":1.2,"g":400},{"x":1.14,"y":1.15,"g":400},{"x":1.142,"y":1.24,"g":400},{"x":1.128,"y":1.2,"g":400},{"x":1.13,"y":1.12,"g":400},{"x":1.132,"y":1.08,"g":400},{"x":1.092,"y":1.23,"g":400},{"x":1.079,"y":1.11,"g":400},{"x":1.073,"y":1.058,"g":400},{"x":1.104,"y":1.163,"g":400},{"x":1.156,"y":1.005,"g":400},{"x":1.17,"y":1.0,"g":400},{"x":1.13,"y":1.0,"g":400},{"x":1.12,"y":1.02,"g":400},{"x":1.085,"y":1.08,"g":400},{"x":1.29,"y":0.995,"g":400},{"x":1.066,"y":1.02,"g":400},{"x":1.1,"y":1.38,"g":400},{"x":1.07,"y":1.38,"g":400},{"x":1.06,"y":1.25,"g":400},{"x":1.05,"y":1.15,"g":400},{"x":1.115,"y":1.3,"g":400},{"x":1.025,"y":1.05,"g":400},
{"x":0.949,"y":1.0,"g":800},{"x":0.957,"y":1.0,"g":800},{"x":0.965,"y":1.0,"g":800},{"x":0.973,"y":1.0,"g":800},{"x":0.981,"y":1.0,"g":800},{"x":0.989,"y":1.0,"g":800},{"x":0.997,"y":1.0,"g":800},{"x":0.959,"y":1.058,"g":800},{"x":0.955,"y":1.03,"g":800},{"x":0.962,"y":1.03,"g":800},{"x":1.059,"y":1.005,"g":800},{"x":1.085,"y":1.0,"g":800},{"x":1.093,"y":1.0,"g":800},{"x":1.105,"y":1.0,"g":800},{"x":1.115,"y":1.0,"g":800},{"x":1.125,"y":1.0,"g":800},{"x":1.135,"y":1.0,"g":800},{"x":1.143,"y":1.0,"g":800},
{"x":0.942,"y":1.0,"g":2000},{"x":0.946,"y":1.0,"g":2000},{"x":1.098,"y":1.0,"g":2000}
],
"redtext":[{"x":0.7835,"y":2.216,"t":"Global optimal"},{"x":0.809,"y":2.021,"t":"~94 pm"}],
"arrow":[{"x":0.765,"y":1.926,"x2":0.905,"y2":1.397}],
"head":[{"x":0.926,"y":1.319}],
"courtesy":[{"x":1.93,"y":0.647,"t":"Courtesy: Changchun Sun"}],
"expo":[{"x":1.81,"y":0.047,"t":"x 10"}],
"exposup":[{"x":1.934,"y":0.153,"t":"−10"}]
},
"resolve":{"axis":{"x":"independent","y":"independent"}},
"layer":[
{"data":{"name":"gx"},
 "mark":{"type":"rule","color":"#9a9a9a","strokeWidth":1.2,"strokeDash":[1.5,6]},
 "encoding":{"x":{"field":"v","type":"quantitative","scale":{"domain":[0.5,2],"nice":false,"zero":false},"axis":null}}},
{"data":{"name":"gy"},
 "mark":{"type":"rule","color":"#9a9a9a","strokeWidth":1.2,"strokeDash":[1.5,6]},
 "encoding":{"y":{"field":"v","type":"quantitative","scale":{"domain":[0.5,4],"nice":false,"zero":false},"axis":null}}},
{"data":{"name":"pts"},
 "mark":{"type":"point","filled":true,"opacity":1,"size":120,"strokeWidth":0},
 "encoding":{
  "x":{"field":"x","type":"quantitative","scale":{"domain":[0.5,2],"nice":false,"zero":false},
   "axis":{"orient":"bottom","values":[0.5,1,1.5,2],"format":"~g","title":"Emittance (m−rad)","titleX":380,"titleY":69,"titleBaseline":"alphabetic","titleAlign":"center","titleFontSize":30.5,"titleFontWeight":"normal","titleColor":"#222","titleFont":"Liberation Sans","labelFont":"Liberation Sans","labelFontSize":30,"labelColor":"#222","labelPadding":19,"labelFlush":false,"labelOverlap":false,"tickSize":-8,"tickColor":"#4a4a4a","tickWidth":1.5,"domain":false,"grid":false}},
  "y":{"field":"y","type":"quantitative","scale":{"domain":[0.5,4],"nice":false,"zero":false},
   "axis":{"orient":"left","values":[0.5,1,1.5,2,2.5,3,3.5,4],"format":"~g","title":"βₓ (m)","titleX":-90,"titleY":345,"titleAngle":-90,"titleAlign":"center","titleBaseline":"middle","titleFontSize":32,"titleFontWeight":"normal","titleColor":"#222","titleFont":"Liberation Sans","labelFont":"Liberation Sans","labelFontSize":30,"labelColor":"#222","labelPadding":14,"labelFlush":false,"labelOverlap":false,"tickSize":-8,"tickColor":"#4a4a4a","tickWidth":1.5,"domain":false,"grid":false}},
  "color":{"field":"g","type":"nominal","scale":{"domain":[100,200,400,800,2000],"range":["#00ee00","#ee0000","#10e8ff","#ff00ff","#0000dd"]},
   "legend":{"orient":"none","legendX":584,"legendY":54,"title":null,"padding":15,"strokeColor":"#555555","fillColor":"white","symbolSize":50,"symbolType":"circle","symbolStrokeWidth":0,"labelFontSize":32,"labelFont":"Liberation Sans","labelColor":"#111","labelOffset":19,"rowPadding":21,"symbolOffset":6,"labelExpr":"'gen=' + datum.label"}}
 }},
{"data":{"name":"arrow"},
 "mark":{"type":"rule","color":"#f03c3c","strokeWidth":1.3},
 "encoding":{
  "x":{"field":"x","type":"quantitative","scale":{"domain":[0.5,2],"nice":false,"zero":false},
   "axis":{"orient":"top","values":[0.5,1,1.5,2],"labels":false,"title":null,"tickSize":-8,"tickColor":"#4a4a4a","tickWidth":1.5,"domain":false,"grid":false}},
  "y":{"field":"y","type":"quantitative","scale":{"domain":[0.5,4],"nice":false,"zero":false},
   "axis":{"orient":"right","values":[0.5,1,1.5,2,2.5,3,3.5,4],"labels":false,"title":null,"tickSize":-8,"tickColor":"#4a4a4a","tickWidth":1.5,"domain":false,"grid":false}},
  "x2":{"field":"x2"},"y2":{"field":"y2"}
 }},
{"data":{"name":"head"},
 "mark":{"type":"point","shape":"M0,-1L0.7,1L-0.7,1Z","size":1369,"angle":144,"filled":true,"opacity":1,"color":"#f03c3c","strokeWidth":0},
 "encoding":{
  "x":{"field":"x","type":"quantitative","scale":{"domain":[0.5,2],"nice":false,"zero":false},"axis":null},
  "y":{"field":"y","type":"quantitative","scale":{"domain":[0.5,4],"nice":false,"zero":false},"axis":null}
 }},
{"data":{"name":"redtext"},
 "mark":{"type":"text","font":"Lato","fontSize":38,"color":"#f03c3c","align":"center","baseline":"alphabetic"},
 "encoding":{
  "x":{"field":"x","type":"quantitative","scale":{"domain":[0.5,2],"nice":false,"zero":false},"axis":null},
  "y":{"field":"y","type":"quantitative","scale":{"domain":[0.5,4],"nice":false,"zero":false},"axis":null},
  "text":{"field":"t"}
 }},
{"data":{"name":"courtesy"},
 "mark":{"type":"text","font":"Lato","fontSize":24,"color":"#36420f","align":"center","baseline":"alphabetic"},
 "encoding":{
  "x":{"field":"x","type":"quantitative","scale":{"domain":[0.5,2],"nice":false,"zero":false},"axis":null},
  "y":{"field":"y","type":"quantitative","scale":{"domain":[0.5,4],"nice":false,"zero":false},"axis":null},
  "text":{"field":"t"}
 }},
{"data":{"name":"expo"},
 "mark":{"type":"text","font":"Liberation Sans","fontSize":30,"color":"#222","align":"left","baseline":"alphabetic"},
 "encoding":{
  "x":{"field":"x","type":"quantitative","scale":{"domain":[0.5,2],"nice":false,"zero":false},"axis":null},
  "y":{"field":"y","type":"quantitative","scale":{"domain":[0.5,4],"nice":false,"zero":false},"axis":null},
  "text":{"field":"t"}
 }},
{"data":{"name":"exposup"},
 "mark":{"type":"text","font":"Liberation Sans","fontSize":20,"color":"#222","align":"left","baseline":"alphabetic"},
 "encoding":{
  "x":{"field":"x","type":"quantitative","scale":{"domain":[0.5,2],"nice":false,"zero":false},"axis":null},
  "y":{"field":"y","type":"quantitative","scale":{"domain":[0.5,4],"nice":false,"zero":false},"axis":null},
  "text":{"field":"t"}
 }}
]
}
